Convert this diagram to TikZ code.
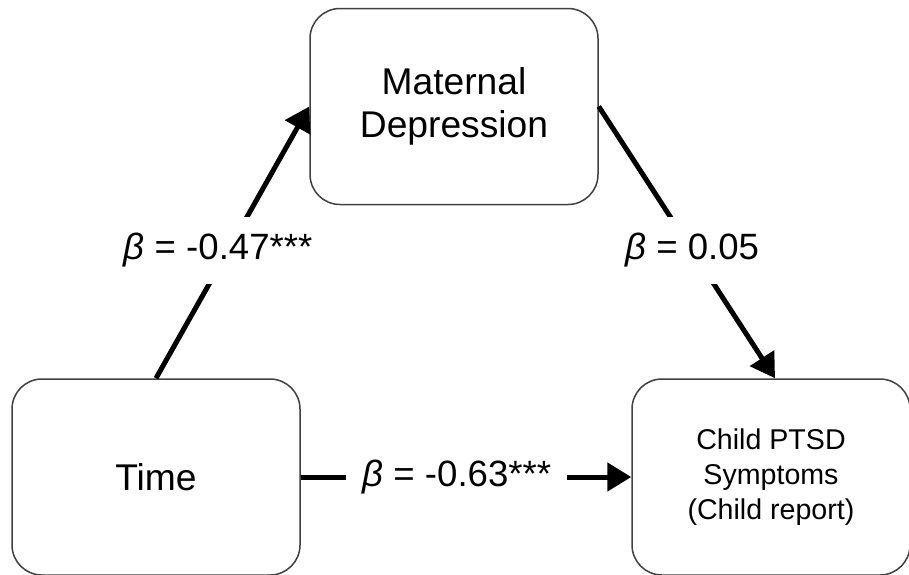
\documentclass[tikz,border=0pt]{standalone}
\usepackage{fontspec}
\setmainfont{Liberation Sans}
\usetikzlibrary{arrows.meta}

\begin{document}
\begin{tikzpicture}[x=0.5pt,y=-0.5pt,
  box/.style={draw=black!75, line width=0.75pt, rounded corners=15pt, fill=white,
    align=center, inner sep=0pt, minimum width=144pt, minimum height=98pt,
    font=\fontsize{18.6}{21.6}\selectfont},
  link/.style={line width=2.5pt, -{Triangle[length=12pt,width=14pt]}},
  coef/.style={fill=white, inner sep=8pt, font=\fontsize{18.3}{21}\selectfont}]
\useasboundingbox (0,0) rectangle (909,574);
\clip (0,0) rectangle (909,574);

\node[box] (mat) at (454,106.5) {Maternal\\Depression};
\node[box] (time) at (156,477) {Time};
\node[box, minimum width=139pt, font=\fontsize{14.3}{17.5}\selectfont] (ptsd) at (771,477) {Child PTSD\\Symptoms\\(Child report)};

\draw[link] (time.north) -- (mat.west)
  node[coef, pos=0.47, xshift=-5pt] {\textit{β} = -0.47***};
\draw[link] (mat.east) -- ([xshift=2pt]ptsd.north)
  node[coef, pos=0.53] {\textit{β} = 0.05};
\draw[link] (time.east) -- (ptsd.west)
  node[coef, pos=0.46, xshift=2pt] {\textit{β} = -0.63***};

\end{tikzpicture}
\end{document}
